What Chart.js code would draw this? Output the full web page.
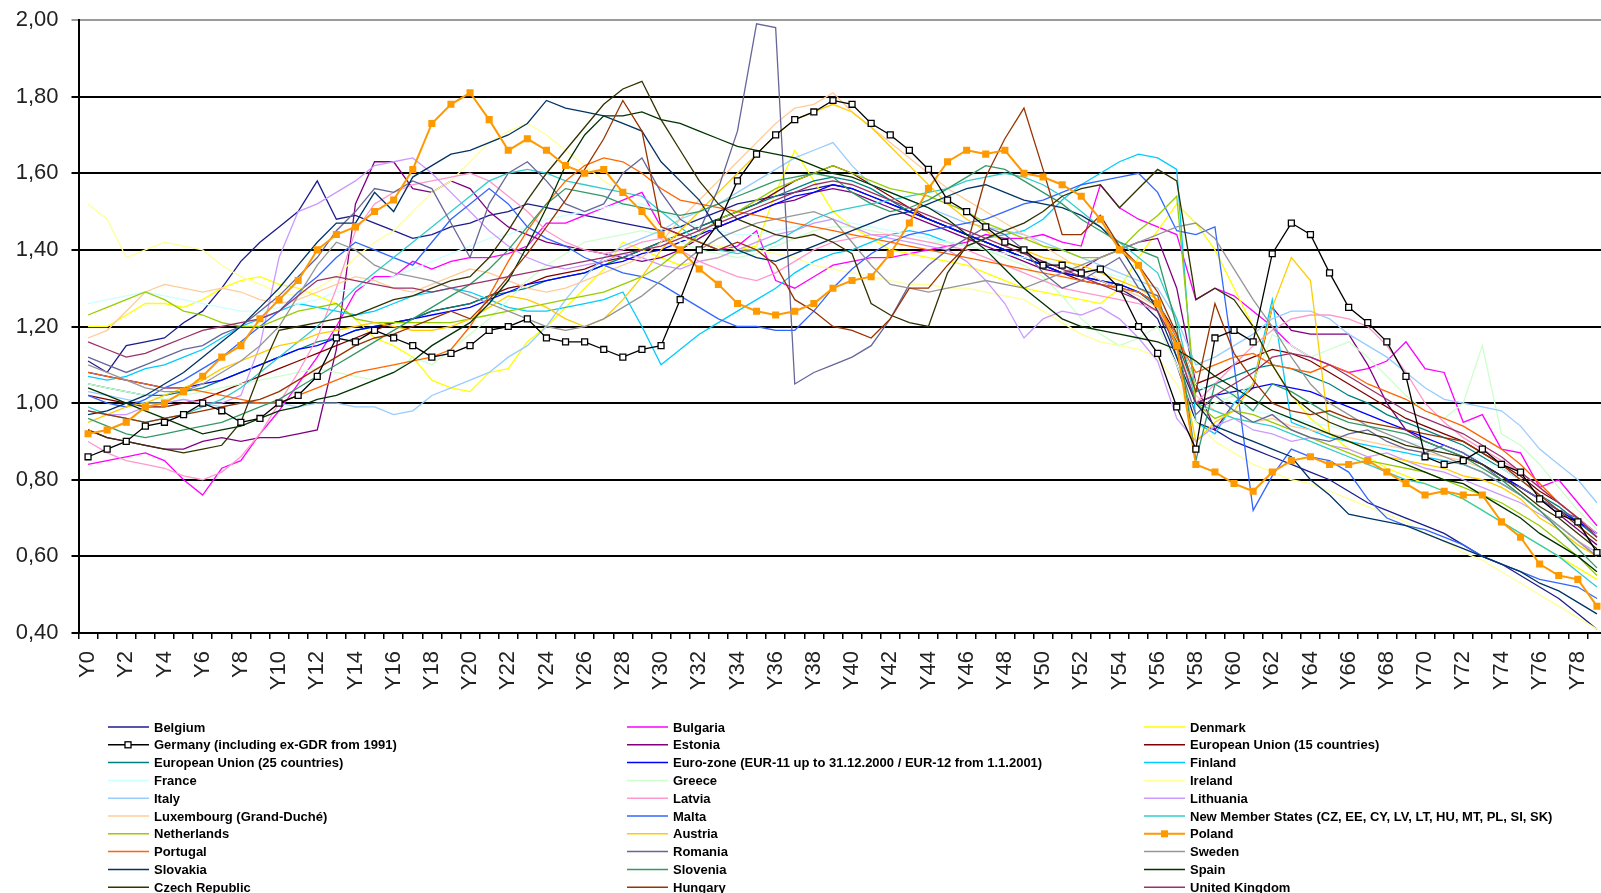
<!DOCTYPE html>
<html>
<head>
<meta charset="utf-8">
<script src="https://cdn.jsdelivr.net/npm/chart.js@4.4.1/dist/chart.umd.min.js"></script>
<style>
  html, body { margin: 0; padding: 0; background: #fff; overflow: hidden; }
  #wrap { position: absolute; left: 0; top: 0; width: 1612px; height: 893px; }
</style>
</head>
<body>
<div id="wrap"><canvas id="gIndex" width="1612" height="893"></canvas></div>
<script>
var years = ["Y0","Y1","Y2","Y3","Y4","Y5","Y6","Y7","Y8","Y9",
  "Y10","Y11","Y12","Y13","Y14","Y15","Y16","Y17","Y18","Y19",
  "Y20","Y21","Y22","Y23","Y24","Y25","Y26","Y27","Y28","Y29",
  "Y30","Y31","Y32","Y33","Y34","Y35","Y36","Y37","Y38","Y39",
  "Y40","Y41","Y42","Y43","Y44","Y45","Y46","Y47","Y48","Y49",
  "Y50","Y51","Y52","Y53","Y54","Y55","Y56","Y57","Y58","Y59",
  "Y60","Y61","Y62","Y63","Y64","Y65","Y66","Y67","Y68","Y69",
  "Y70","Y71","Y72","Y73","Y74","Y75","Y76","Y77","Y78","Y79"];

var yTicks = [0.40, 0.60, 0.80, 1.00, 1.20, 1.40, 1.60, 1.80, 2.00];

var belgium = [1.11,1.08,1.15,1.16,1.17,1.21,1.24,1.30,1.37,1.42, 1.46,1.50,1.58,1.48,1.49,1.47,1.45,1.43,1.44,1.46,
  1.47,1.49,1.50,1.52,1.51,1.50,1.49,1.48,1.47,1.46, 1.45,1.46,1.48,1.50,1.52,1.53,1.54,1.55,1.56,1.57,
  1.56,1.54,1.52,1.50,1.48,1.46,1.44,1.42,1.40,1.38, 1.36,1.34,1.33,1.32,1.30,1.27,1.22,1.10,0.95,0.93,
  0.90,0.88,0.86,0.84,0.82,0.80,0.77,0.74,0.72,0.70, 0.68,0.66,0.63,0.60,0.58,0.55,0.52,0.49,0.45,0.41];
var bulgaria = [0.84,0.85,0.86,0.87,0.85,0.80,0.76,0.83,0.85,0.92, 0.98,1.05,1.12,1.20,1.29,1.33,1.33,1.37,1.35,1.37,
  1.38,1.38,1.39,1.41,1.47,1.47,1.49,1.51,1.53,1.55, 1.46,1.44,1.42,1.40,1.41,1.45,1.32,1.30,1.33,1.36,
  1.37,1.38,1.38,1.39,1.40,1.41,1.42,1.44,1.43,1.43, 1.44,1.42,1.41,1.57,1.51,1.48,1.46,1.44,1.27,1.30,
  1.28,1.24,1.20,1.15,1.12,1.10,1.08,1.09,1.11,1.16, 1.09,1.08,0.95,0.97,0.88,0.87,0.78,0.80,0.74,0.68];
var denmark = [1.20,1.20,1.23,1.26,1.26,1.25,1.27,1.30,1.32,1.33, 1.31,1.30,1.28,1.26,1.22,1.17,1.15,1.12,1.06,1.04,
  1.03,1.08,1.09,1.16,1.20,1.25,1.30,1.35,1.42,1.40, 1.38,1.36,1.37,1.38,1.40,1.41,1.55,1.66,1.58,1.50,
  1.46,1.43,1.40,1.39,1.38,1.37,1.36,1.34,1.32,1.30, 1.29,1.28,1.27,1.26,1.30,1.38,1.45,1.52,1.47,1.40,
  1.30,1.20,1.10,1.02,0.96,0.92,0.88,0.86,0.83,0.81, 0.79,0.77,0.75,0.72,0.69,0.66,0.63,0.60,0.57,0.54];
var germany = [0.86,0.88,0.90,0.94,0.95,0.97,1.00,0.98,0.95,0.96, 1.00,1.02,1.07,1.17,1.16,1.19,1.17,1.15,1.12,1.13,
  1.15,1.19,1.20,1.22,1.17,1.16,1.16,1.14,1.12,1.14, 1.15,1.27,1.40,1.47,1.58,1.65,1.70,1.74,1.76,1.79,
  1.78,1.73,1.70,1.66,1.61,1.53,1.50,1.46,1.42,1.40, 1.36,1.36,1.34,1.35,1.30,1.20,1.13,0.99,0.88,1.17,
  1.19,1.16,1.39,1.47,1.44,1.34,1.25,1.21,1.16,1.07, 0.86,0.84,0.85,0.88,0.84,0.82,0.75,0.71,0.69,0.61];
var estonia = [0.93,0.91,0.90,0.89,0.88,0.88,0.90,0.91,0.90,0.91, 0.91,0.92,0.93,1.14,1.52,1.63,1.63,1.56,1.55,1.58,
  1.56,1.50,1.46,1.44,1.42,1.41,1.40,1.39,1.38,1.37, 1.38,1.40,1.43,1.46,1.48,1.50,1.52,1.53,1.55,1.56,
  1.55,1.53,1.51,1.49,1.47,1.45,1.43,1.41,1.39,1.37, 1.35,1.34,1.35,1.38,1.40,1.42,1.43,1.30,1.05,0.93,
  1.00,1.04,1.25,1.19,1.18,1.18,1.18,1.10,1.00,0.93, 0.90,0.88,0.86,0.84,0.81,0.78,0.75,0.71,0.67,0.63];
var eu15 = [1.02,1.01,1.00,0.99,0.99,1.00,1.01,1.03,1.05,1.07, 1.09,1.11,1.13,1.15,1.17,1.19,1.21,1.22,1.24,1.25,
  1.26,1.28,1.30,1.31,1.33,1.34,1.35,1.37,1.38,1.40, 1.42,1.44,1.46,1.48,1.50,1.52,1.55,1.58,1.60,1.62,
  1.60,1.57,1.54,1.51,1.48,1.46,1.44,1.42,1.40,1.38, 1.36,1.34,1.32,1.31,1.30,1.29,1.26,1.18,1.05,1.07,
  1.10,1.12,1.14,1.13,1.11,1.08,1.05,1.02,0.99,0.96, 0.94,0.92,0.90,0.87,0.84,0.81,0.77,0.74,0.70,0.66];
var eu25 = [1.05,1.04,1.03,1.02,1.02,1.03,1.04,1.06,1.08,1.10, 1.12,1.14,1.16,1.17,1.19,1.20,1.21,1.22,1.24,1.25,
  1.26,1.28,1.29,1.30,1.32,1.33,1.34,1.36,1.38,1.40, 1.42,1.44,1.46,1.48,1.50,1.52,1.54,1.56,1.58,1.59,
  1.58,1.56,1.53,1.50,1.48,1.46,1.44,1.42,1.40,1.38, 1.36,1.34,1.33,1.32,1.31,1.29,1.25,1.16,1.03,1.05,
  1.07,1.09,1.10,1.09,1.07,1.05,1.02,1.00,0.97,0.95, 0.93,0.91,0.89,0.86,0.83,0.80,0.76,0.73,0.69,0.65];
var euroZone = [1.08,1.07,1.06,1.05,1.04,1.04,1.05,1.06,1.08,1.10, 1.12,1.14,1.15,1.17,1.19,1.20,1.21,1.22,1.23,1.24,
  1.25,1.27,1.29,1.31,1.32,1.33,1.34,1.36,1.37,1.39, 1.40,1.42,1.44,1.46,1.48,1.50,1.52,1.54,1.55,1.57,
  1.56,1.54,1.52,1.50,1.48,1.46,1.44,1.42,1.40,1.38, 1.36,1.34,1.33,1.32,1.31,1.29,1.26,1.15,1.00,1.02,
  1.03,1.04,1.05,1.04,1.03,1.01,0.99,0.97,0.95,0.93, 0.91,0.89,0.87,0.84,0.81,0.78,0.75,0.72,0.69,0.66];
var finland = [1.07,1.06,1.07,1.09,1.10,1.12,1.14,1.17,1.20,1.22, 1.24,1.26,1.25,1.24,1.23,1.24,1.26,1.28,1.29,1.30,
  1.29,1.27,1.25,1.24,1.24,1.25,1.26,1.27,1.29,1.20, 1.10,1.14,1.18,1.21,1.24,1.27,1.30,1.34,1.37,1.39,
  1.40,1.42,1.44,1.45,1.44,1.42,1.41,1.43,1.44,1.45, 1.48,1.53,1.57,1.60,1.63,1.65,1.64,1.61,0.95,0.92,
  1.00,1.05,1.27,0.95,0.93,0.91,0.90,0.89,0.88,0.87, 0.86,0.85,0.84,0.82,0.79,0.76,0.72,0.68,0.64,0.60];
var france = [1.26,1.27,1.28,1.29,1.28,1.27,1.26,1.25,1.24,1.24, 1.25,1.26,1.27,1.29,1.30,1.32,1.33,1.35,1.37,1.39,
  1.41,1.43,1.44,1.46,1.48,1.49,1.50,1.51,1.52,1.52, 1.50,1.48,1.46,1.45,1.44,1.44,1.45,1.46,1.47,1.48,
  1.47,1.46,1.45,1.44,1.43,1.42,1.41,1.40,1.39,1.38, 1.37,1.36,1.35,1.34,1.33,1.31,1.28,1.18,1.05,1.02,
  1.00,0.98,0.97,0.96,0.95,0.94,0.93,0.92,0.91,0.90, 0.89,0.88,0.87,0.85,0.83,0.80,0.76,0.72,0.68,0.64];
var greece = [1.05,1.04,1.03,1.02,1.01,1.02,1.03,1.04,1.05,1.06, 1.07,1.08,1.09,1.08,1.07,1.06,1.08,1.12,1.10,1.14,
  1.18,1.22,1.27,1.32,1.36,1.39,1.42,1.43,1.44,1.45, 1.44,1.42,1.40,1.39,1.38,1.39,1.41,1.43,1.45,1.46,
  1.46,1.45,1.44,1.43,1.42,1.42,1.41,1.40,1.38,1.36, 1.33,1.28,1.22,1.18,1.15,1.17,1.20,1.10,0.97,1.00,
  1.02,1.05,1.18,1.15,1.12,1.14,1.16,1.12,1.07,1.02, 0.98,0.96,1.00,1.15,0.92,0.89,0.84,0.78,0.72,0.67];
var ireland = [1.52,1.48,1.38,1.40,1.42,1.41,1.40,1.36,1.33,1.31, 1.29,1.28,1.30,1.33,1.38,1.42,1.45,1.50,1.55,1.58,
  1.63,1.68,1.71,1.73,1.70,1.66,1.62,1.58,1.55,1.50, 1.46,1.43,1.42,1.41,1.40,1.40,1.39,1.38,1.36,1.35,
  1.34,1.33,1.32,1.31,1.31,1.30,1.30,1.29,1.28,1.27, 1.24,1.21,1.18,1.16,1.15,1.14,1.12,1.05,0.95,0.90,
  0.87,0.84,0.82,0.80,0.79,0.77,0.75,0.73,0.71,0.69, 0.66,0.64,0.61,0.59,0.56,0.53,0.50,0.47,0.44,0.41];
var italy = [1.03,1.02,1.01,1.00,1.00,1.01,1.00,0.99,1.00,1.00, 1.00,0.99,1.00,1.00,0.99,0.99,0.97,0.98,1.02,1.04,
  1.06,1.08,1.12,1.15,1.20,1.27,1.33,1.38,1.41,1.43, 1.45,1.48,1.50,1.52,1.55,1.58,1.61,1.64,1.66,1.68,
  1.62,1.57,1.55,1.53,1.51,1.49,1.47,1.46,1.45,1.44, 1.42,1.40,1.38,1.36,1.34,1.32,1.30,1.22,1.10,1.12,
  1.15,1.18,1.22,1.24,1.24,1.22,1.18,1.15,1.12,1.08, 1.04,1.01,1.00,0.99,0.98,0.94,0.88,0.84,0.80,0.74];
var latvia = [0.90,0.87,0.85,0.84,0.83,0.81,0.80,0.82,0.86,0.92, 1.00,1.08,1.17,1.30,1.45,1.52,1.55,1.57,1.58,1.59,
  1.60,1.58,1.54,1.50,1.45,1.42,1.40,1.39,1.40,1.42, 1.43,1.40,1.37,1.35,1.33,1.32,1.34,1.37,1.40,1.42,
  1.43,1.44,1.44,1.43,1.42,1.41,1.40,1.38,1.36,1.34, 1.32,1.30,1.29,1.28,1.27,1.26,1.24,1.15,1.00,1.05,
  1.10,1.15,1.19,1.22,1.23,1.23,1.22,1.20,1.15,1.08, 1.00,0.95,0.91,0.88,0.85,0.82,0.78,0.74,0.70,0.66];
var lithuania = [0.98,0.97,0.97,0.99,1.00,1.01,1.00,1.00,1.02,1.15, 1.38,1.50,1.52,1.55,1.58,1.62,1.63,1.64,1.60,1.55,
  1.50,1.45,1.41,1.38,1.36,1.35,1.36,1.37,1.39,1.38, 1.36,1.35,1.37,1.38,1.40,1.42,1.44,1.45,1.47,1.48,
  1.46,1.44,1.43,1.42,1.41,1.40,1.37,1.32,1.26,1.17, 1.22,1.24,1.23,1.25,1.22,1.17,1.11,0.96,0.90,0.94,
  0.96,0.93,0.92,0.90,0.91,0.89,0.88,0.86,0.87,0.85, 0.83,0.82,0.80,0.78,0.76,0.74,0.71,0.68,0.64,0.61];
var luxembourg = [1.17,1.19,1.24,1.29,1.31,1.30,1.29,1.30,1.29,1.27, 1.26,1.27,1.29,1.31,1.33,1.32,1.30,1.29,1.31,1.33,
  1.35,1.34,1.32,1.30,1.29,1.30,1.32,1.34,1.36,1.38, 1.42,1.48,1.53,1.58,1.63,1.68,1.73,1.77,1.78,1.81,
  1.76,1.72,1.68,1.64,1.60,1.56,1.53,1.50,1.47,1.44, 1.41,1.38,1.35,1.32,1.30,1.28,1.25,1.15,1.02,0.98,
  0.96,0.95,0.96,0.94,0.93,0.92,0.91,0.90,0.89,0.88, 0.87,0.86,0.85,0.83,0.80,0.76,0.72,0.68,0.64,0.60];
var malta = [1.02,1.00,0.99,1.01,1.04,1.06,1.09,1.12,1.16,1.20, 1.24,1.29,1.33,1.38,1.42,1.40,1.38,1.36,1.42,1.48,
  1.52,1.56,1.52,1.46,1.43,1.41,1.38,1.36,1.34,1.33, 1.31,1.28,1.25,1.22,1.20,1.20,1.19,1.19,1.24,1.30,
  1.35,1.39,1.42,1.44,1.45,1.46,1.47,1.48,1.50,1.52, 1.53,1.55,1.57,1.58,1.59,1.60,1.55,1.45,1.44,1.46,
  1.10,0.72,0.81,0.88,0.86,0.85,0.82,0.75,0.70,0.68, 0.67,0.65,0.63,0.60,0.58,0.56,0.54,0.53,0.52,0.49];
var newMembers = [0.99,0.97,0.96,0.95,0.96,0.97,0.99,1.01,1.04,1.08, 1.12,1.16,1.20,1.25,1.30,1.34,1.38,1.42,1.46,1.50,
  1.54,1.58,1.60,1.61,1.60,1.58,1.57,1.56,1.55,1.54, 1.50,1.46,1.42,1.40,1.39,1.40,1.42,1.45,1.48,1.50,
  1.51,1.52,1.53,1.54,1.55,1.56,1.58,1.59,1.60,1.59, 1.57,1.54,1.50,1.46,1.42,1.38,1.34,1.22,1.00,0.98,
  0.96,0.95,0.94,0.92,0.90,0.88,0.86,0.84,0.82,0.80, 0.79,0.77,0.75,0.72,0.69,0.66,0.63,0.60,0.56,0.52];
var netherlands = [1.23,1.25,1.27,1.29,1.27,1.24,1.23,1.21,1.20,1.20, 1.22,1.24,1.25,1.26,1.22,1.21,1.21,1.21,1.21,1.21,
  1.22,1.23,1.24,1.25,1.26,1.27,1.28,1.29,1.31,1.33, 1.36,1.40,1.44,1.48,1.50,1.53,1.56,1.58,1.60,1.62,
  1.60,1.58,1.56,1.55,1.54,1.52,1.50,1.47,1.45,1.43, 1.41,1.40,1.38,1.38,1.40,1.45,1.49,1.54,1.00,0.96,
  0.98,0.97,0.95,0.93,0.91,0.89,0.87,0.85,0.84,0.83, 0.82,0.80,0.78,0.76,0.74,0.71,0.68,0.64,0.60,0.55];
var austria = [0.95,0.97,0.99,1.00,1.02,1.04,1.06,1.09,1.11,1.13, 1.15,1.16,1.18,1.19,1.20,1.21,1.20,1.19,1.19,1.20,
  1.22,1.25,1.28,1.27,1.25,1.22,1.20,1.22,1.27,1.33, 1.40,1.45,1.50,1.55,1.60,1.65,1.70,1.74,1.76,1.78,
  1.76,1.72,1.67,1.62,1.57,1.52,1.48,1.45,1.42,1.40, 1.38,1.37,1.36,1.34,1.32,1.30,1.27,1.15,0.90,0.95,
  0.98,1.05,1.25,1.38,1.32,0.92,0.90,0.88,0.86,0.85, 0.84,0.83,0.81,0.80,0.78,0.75,0.70,0.67,0.63,0.60];
var poland = [0.92,0.93,0.95,0.99,1.00,1.03,1.07,1.12,1.15,1.22, 1.27,1.32,1.40,1.44,1.46,1.50,1.53,1.61,1.73,1.78,
  1.81,1.74,1.66,1.69,1.66,1.62,1.60,1.61,1.55,1.50, 1.44,1.40,1.35,1.31,1.26,1.24,1.23,1.24,1.26,1.30,
  1.32,1.33,1.39,1.47,1.56,1.63,1.66,1.65,1.66,1.60, 1.59,1.57,1.54,1.48,1.40,1.36,1.26,1.15,0.84,0.82,
  0.79,0.77,0.82,0.85,0.86,0.84,0.84,0.85,0.82,0.79, 0.76,0.77,0.76,0.76,0.69,0.65,0.58,0.55,0.54,0.47];
var portugal = [1.08,1.07,1.06,1.05,1.04,1.04,1.03,1.02,1.01,1.00, 1.00,1.02,1.04,1.06,1.08,1.09,1.10,1.11,1.12,1.14,
  1.20,1.28,1.37,1.45,1.52,1.58,1.62,1.64,1.63,1.60, 1.56,1.53,1.52,1.51,1.50,1.49,1.48,1.47,1.46,1.45,
  1.44,1.43,1.42,1.41,1.40,1.39,1.38,1.37,1.36,1.35, 1.34,1.33,1.32,1.31,1.30,1.29,1.26,1.17,1.08,1.10,
  1.12,1.13,1.10,1.09,1.08,1.10,1.08,1.05,1.03,1.01, 0.98,0.96,0.94,0.91,0.88,0.84,0.79,0.74,0.70,0.65];
var romania = [1.12,1.10,1.08,1.10,1.12,1.14,1.15,1.18,1.20,1.24, 1.28,1.33,1.38,1.45,1.50,1.56,1.55,1.58,1.56,1.47,
  1.38,1.52,1.60,1.63,1.58,1.52,1.50,1.52,1.60,1.64, 1.55,1.48,1.45,1.56,1.71,1.99,1.98,1.05,1.08,1.10,
  1.12,1.15,1.22,1.31,1.36,1.40,1.43,1.46,1.44,1.40, 1.34,1.30,1.32,1.35,1.38,1.30,1.28,1.12,0.97,1.02,
  0.98,0.95,0.97,0.93,0.91,0.90,0.92,0.93,0.90,0.88, 0.87,0.89,0.87,0.84,0.80,0.78,0.75,0.72,0.70,0.65];
var sweden = [1.10,1.08,1.06,1.04,1.03,1.03,1.05,1.08,1.11,1.15, 1.20,1.28,1.36,1.42,1.40,1.36,1.34,1.33,1.32,1.30,
  1.28,1.26,1.24,1.22,1.20,1.19,1.20,1.22,1.25,1.28, 1.32,1.36,1.40,1.43,1.45,1.47,1.48,1.49,1.50,1.48,
  1.42,1.36,1.31,1.30,1.29,1.30,1.31,1.32,1.31,1.30, 1.32,1.34,1.36,1.38,1.40,1.42,1.44,1.46,1.47,1.43,
  1.35,1.27,1.20,1.12,1.05,1.00,0.97,0.94,0.92,0.90, 0.88,0.86,0.84,0.82,0.79,0.76,0.72,0.68,0.64,0.60];
var slovakia = [0.97,0.98,1.00,1.02,1.05,1.08,1.12,1.16,1.20,1.25, 1.30,1.36,1.42,1.47,1.47,1.55,1.50,1.59,1.62,1.65,
  1.66,1.68,1.70,1.73,1.79,1.77,1.76,1.75,1.73,1.71, 1.63,1.58,1.53,1.45,1.40,1.38,1.37,1.39,1.41,1.43,
  1.45,1.47,1.49,1.50,1.52,1.54,1.56,1.57,1.55,1.53, 1.52,1.51,1.49,1.46,1.41,1.33,1.24,1.12,1.00,0.94,
  0.92,0.90,0.88,0.86,0.80,0.76,0.71,0.70,0.69,0.68, 0.66,0.64,0.62,0.60,0.58,0.56,0.53,0.51,0.48,0.45];
var slovenia = [0.96,0.94,0.92,0.91,0.92,0.93,0.94,0.95,0.97,0.99, 1.01,1.04,1.07,1.10,1.13,1.16,1.19,1.22,1.25,1.28,
  1.31,1.35,1.40,1.46,1.52,1.56,1.55,1.54,1.52,1.51, 1.50,1.49,1.50,1.52,1.54,1.56,1.58,1.59,1.60,1.59,
  1.55,1.52,1.50,1.51,1.53,1.56,1.59,1.62,1.61,1.58, 1.55,1.52,1.48,1.45,1.42,1.40,1.38,1.20,0.85,1.05,
  1.02,0.98,1.05,1.03,1.00,0.97,0.95,0.94,0.93,0.92, 0.90,0.88,0.86,0.83,0.80,0.76,0.72,0.67,0.62,0.57];
var spain = [1.04,1.02,1.00,0.98,0.96,0.94,0.92,0.93,0.94,0.96, 0.98,0.99,1.01,1.02,1.04,1.06,1.08,1.11,1.15,1.18,
  1.21,1.26,1.32,1.41,1.51,1.62,1.70,1.75,1.75,1.76, 1.74,1.73,1.71,1.69,1.67,1.66,1.65,1.64,1.62,1.60,
  1.59,1.57,1.55,1.53,1.51,1.48,1.44,1.40,1.35,1.30, 1.26,1.22,1.20,1.19,1.18,1.17,1.16,1.14,1.11,1.07,
  1.04,1.01,0.98,0.96,0.94,0.92,0.90,0.88,0.86,0.84, 0.82,0.80,0.79,0.76,0.73,0.70,0.66,0.63,0.60,0.56];
var czech = [0.93,0.91,0.90,0.89,0.88,0.87,0.88,0.89,0.95,1.08, 1.19,1.20,1.21,1.22,1.23,1.25,1.27,1.28,1.30,1.32,
  1.33,1.38,1.45,1.53,1.60,1.66,1.72,1.78,1.82,1.84, 1.74,1.66,1.58,1.52,1.48,1.46,1.44,1.43,1.44,1.42,
  1.39,1.26,1.23,1.21,1.20,1.34,1.41,1.43,1.45,1.47, 1.50,1.54,1.56,1.57,1.51,1.56,1.61,1.58,1.27,1.30,
  1.27,1.20,1.10,1.02,0.98,0.95,0.93,0.92,0.91,0.89, 0.88,0.87,0.86,0.84,0.81,0.77,0.73,0.70,0.66,0.62];
var hungary = [0.98,0.97,0.96,0.95,0.96,0.97,0.98,0.99,1.00,1.01, 1.03,1.06,1.09,1.12,1.15,1.17,1.18,1.20,1.22,1.24,
  1.22,1.27,1.33,1.39,1.46,1.53,1.61,1.69,1.79,1.71, 1.46,1.44,1.42,1.40,1.42,1.40,1.36,1.27,1.24,1.20,
  1.19,1.17,1.22,1.30,1.30,1.36,1.41,1.59,1.69,1.77, 1.61,1.44,1.44,1.49,1.41,1.36,1.29,1.18,1.03,1.26,
  1.13,1.06,1.00,0.98,0.97,0.98,0.96,0.95,0.94,0.93, 0.92,0.91,0.90,0.87,0.84,0.80,0.76,0.72,0.68,0.64];
var unitedKingdom = [1.16,1.14,1.12,1.13,1.15,1.17,1.19,1.20,1.21,1.22, 1.24,1.28,1.32,1.33,1.32,1.31,1.30,1.30,1.29,1.30,
  1.31,1.32,1.33,1.34,1.35,1.36,1.37,1.38,1.39,1.40, 1.41,1.43,1.45,1.47,1.49,1.51,1.53,1.55,1.57,1.58,
  1.57,1.55,1.53,1.51,1.49,1.47,1.45,1.43,1.41,1.39, 1.37,1.35,1.33,1.31,1.29,1.27,1.24,1.15,1.00,1.02,
  1.05,1.08,1.12,1.13,1.12,1.10,1.07,1.04,1.01,0.98, 0.96,0.94,0.92,0.89,0.86,0.82,0.78,0.74,0.70,0.65];

// legend order (row by row, 3 columns)
var series = [
  ["Belgium", "#1c1c8c", belgium],
  ["Bulgaria", "#ff00ff", bulgaria],
  ["Denmark", "#ffff00", denmark],
  ["Germany (including ex-GDR from 1991)", "#000000", germany],
  ["Estonia", "#800080", estonia],
  ["European Union (15 countries)", "#800000", eu15],
  ["European Union (25 countries)", "#008080", eu25],
  ["Euro-zone (EUR-11 up to 31.12.2000 / EUR-12 from 1.1.2001)", "#0000ff", euroZone],
  ["Finland", "#00ccff", finland],
  ["France", "#ccffff", france],
  ["Greece", "#ccffcc", greece],
  ["Ireland", "#ffff99", ireland],
  ["Italy", "#99ccff", italy],
  ["Latvia", "#ff99cc", latvia],
  ["Lithuania", "#cc99ff", lithuania],
  ["Luxembourg (Grand-Duché)", "#ffcc99", luxembourg],
  ["Malta", "#3366ff", malta],
  ["New Member States (CZ, EE, CY, LV, LT, HU, MT, PL, SI, SK)", "#33cccc", newMembers],
  ["Netherlands", "#99cc00", netherlands],
  ["Austria", "#ffcc00", austria],
  ["Poland", "#ff9900", poland],
  ["Portugal", "#ff6600", portugal],
  ["Romania", "#666699", romania],
  ["Sweden", "#969696", sweden],
  ["Slovakia", "#003366", slovakia],
  ["Slovenia", "#339966", slovenia],
  ["Spain", "#003300", spain],
  ["Czech Republic", "#333300", czech],
  ["Hungary", "#993300", hungary],
  ["United Kingdom", "#993366", unitedKingdom]
];

var datasets = series.map(function (s, i) {
  var d = {
    label: s[0],
    data: s[2],
    borderColor: s[1],
    backgroundColor: s[1],
    borderWidth: 1.3,
    pointRadius: 0,
    tension: 0,
    fill: false,
    order: -i
  };
  if (s[0] == "Poland") {
    d.borderWidth = 2;
    d.pointStyle = 'rect';
    d.pointRadius = 5;
    d.pointBorderWidth = 0;
    d.order = -100;
  }
  if (s[0].indexOf("Germany") == 0) {
    d.pointStyle = 'rect';
    d.pointRadius = 4.2;
    d.pointBackgroundColor = "#ffffff";
    d.pointBorderColor = "#000000";
    d.pointBorderWidth = 1.3;
    d.order = -101;
  }
  return d;
});

// legend drawn in 3 columns under the plot
var legendBox = {
  id: 'legendBox',
  afterDraw: function (chart) {
    var c = chart.ctx;
    var colX = [108, 627, 1144];
    c.save();
    c.font = 'bold 13px "Liberation Sans", Arial, sans-serif';
    c.textBaseline = 'middle';
    c.fillStyle = '#000';
    series.forEach(function (s, i) {
      var x = colX[i % 3];
      var y = 727 + Math.floor(i / 3) * 17.8;
      var w = (s[0] == "Poland") ? 2 : 1.5;
      c.strokeStyle = s[1];
      c.lineWidth = w;
      c.beginPath();
      c.moveTo(x, y);
      c.lineTo(x + 41, y);
      c.stroke();
      if (s[0] == "Poland") {
        c.fillStyle = s[1];
        c.fillRect(x + 17, y - 3.5, 7, 7);
      }
      if (s[0].indexOf("Germany") == 0) {
        c.fillStyle = '#fff';
        c.fillRect(x + 17, y - 3, 6, 6);
        c.lineWidth = 1.3;
        c.strokeStyle = '#000';
        c.strokeRect(x + 17, y - 3, 6, 6);
      }
      c.fillStyle = '#000';
      c.fillText(s[0], x + 46, y + 1);
    });
    c.restore();
  }
};

var ctx = document.getElementById("gIndex").getContext('2d');
var myChart = new Chart(ctx, {
  type: 'line',
  data: { labels: years, datasets: datasets },
  plugins: [legendBox],
  options: {
    responsive: false,
    animation: false,
    devicePixelRatio: 1,
    layout: { padding: { top: 20, right: 3, bottom: 193, left: 0 } },
    plugins: { legend: { display: false }, tooltip: { enabled: false } },
    scales: {
      x: {
        type: 'category',
        offset: true,
        afterFit: function (s) { s.height = 67; s.paddingLeft = 0; s.paddingRight = 0; },
        border: { display: true, color: '#000', width: 2 },
        grid: { offset: true, drawOnChartArea: false, drawTicks: true, tickLength: 6, color: '#000', lineWidth: 1.5 },
        ticks: {
          autoSkip: false, maxRotation: 90, minRotation: 90, padding: 12,
          color: '#222',
          font: { family: '"Liberation Sans", Arial, sans-serif', size: 22 },
          callback: function (v, i) { return i % 2 ? '' : years[i]; }
        }
      },
      y: {
        min: yTicks[0], max: yTicks[yTicks.length - 1],
        afterFit: function (s) { s.width = 78.5; s.paddingTop = 0; s.paddingBottom = 0; },
        afterBuildTicks: function (s) { s.ticks = yTicks.map(function (v) { return { value: v }; }); },
        border: { display: true, color: '#000', width: 2 },
        grid: {
          drawTicks: true, tickLength: 7, lineWidth: 2,
          color: function (c) { return c.tick && c.tick.value >= 2 ? '#9a9a9a' : '#000'; }
        },
        ticks: {
          padding: 13, color: '#222',
          font: { family: '"Liberation Sans", Arial, sans-serif', size: 22 },
          callback: function (v) { return Number(v).toFixed(2).replace('.', ','); }
        }
      }
    }
  }
});
</script>
</body>
</html>
